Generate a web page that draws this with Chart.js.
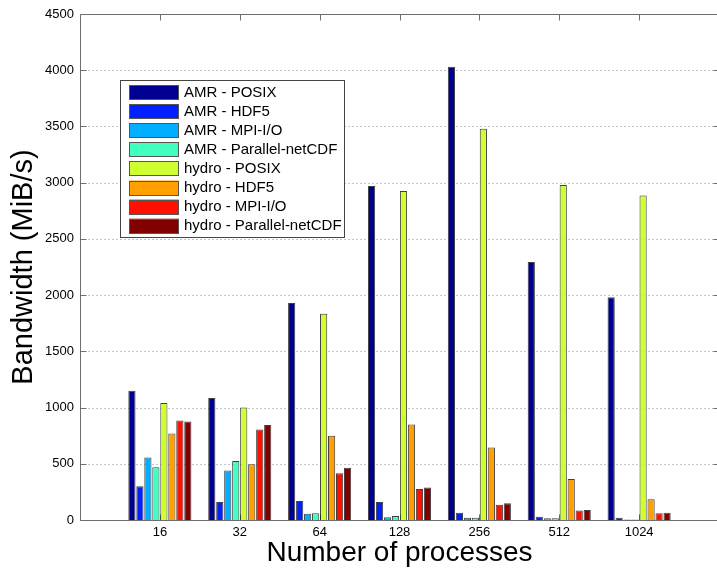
<!DOCTYPE html>
<html>
<head>
<meta charset="utf-8">
<script src="https://cdn.jsdelivr.net/npm/chart.js@4.4.0/dist/chart.umd.min.js"></script>
<style>
  html, body { margin: 0; padding: 0; background: #fff; overflow: hidden; }
  #wrap { width: 724px; height: 569px; }
</style>
</head>
<body>
<div id="wrap"><canvas id="chart" width="724" height="569"></canvas></div>
<script>
// ---- data (MiB/s) ----
const categories = ["16", "32", "64", "128", "256", "512", "1024"];
const seriesNames = [
  "AMR - POSIX", "AMR - HDF5", "AMR - MPI-I/O", "AMR - Parallel-netCDF",
  "hydro - POSIX", "hydro - HDF5", "hydro - MPI-I/O", "hydro - Parallel-netCDF"
];
const amrPosix     = [1150, 1085, 1930, 2970, 4030, 2295, 1980];
const amrHdf5      = [300, 160, 170, 160, 65, 30, 20];
const amrMpiIo     = [555, 440, 55, 25, 20, 15, 5];
const amrPnetcdf   = [470, 525, 60, 35, 20, 15, 5];
const hydroPosix   = [1040, 1000, 1835, 2925, 3480, 2980, 2885];
const hydroHdf5    = [770, 495, 750, 850, 645, 365, 185];
const hydroMpiIo   = [885, 805, 415, 275, 135, 85, 60];
const hydroPnetcdf = [875, 845, 465, 290, 150, 90, 65];
const yTicks = [0, 500, 1000, 1500, 2000, 2500, 3000, 3500, 4000, 4500];

// jet colormap picks, as matlab's bar() gives them
const jetColors = ["#000090", "#0020FF", "#00AFFF", "#40FFBF", "#CFFF30", "#FF9F00", "#FF1000", "#800000"];
const FONT = "'Liberation Sans', Arial, Helvetica, sans-serif";

const allSeries = [amrPosix, amrHdf5, amrMpiIo, amrPnetcdf, hydroPosix, hydroHdf5, hydroMpiIo, hydroPnetcdf];

// an empty slot on each side so the groups sit where matlab puts them
const labels = ["", ...categories, ""];

/** dotted grid, box, inward ticks and the in-plot legend, matlab style */
const matlabAxes = {
  id: "matlabAxes",
  beforeDatasetsDraw(chart) {
    const { ctx, chartArea: a, scales: { x, y } } = chart;
    const L = Math.round(a.left) + 0.5, R = Math.round(a.right) + 0.5;
    const T = Math.round(a.top) + 0.5, B = Math.round(a.bottom) + 0.5;
    const tick = 6;
    ctx.save();
    // dotted grid
    ctx.strokeStyle = "#8a8a8a";
    ctx.lineWidth = 1;
    ctx.setLineDash([1, 3]);
    ctx.beginPath();
    yTicks.slice(1, -1).forEach(v => {
      const py = Math.round(y.getPixelForValue(v)) + 0.5;
      ctx.moveTo(L, py); ctx.lineTo(R, py);
    });
    ctx.stroke();
    ctx.setLineDash([]);
    // box + ticks
    ctx.strokeStyle = "#6e6e6e";
    ctx.beginPath();
    ctx.rect(L, T, R - L, B - T);
    categories.forEach((c, i) => {
      const px = Math.round(x.getPixelForValue(i + 1)) + 0.5;
      ctx.moveTo(px, B); ctx.lineTo(px, B - tick);
      ctx.moveTo(px, T); ctx.lineTo(px, T + tick);
    });
    yTicks.forEach(v => {
      const py = Math.round(y.getPixelForValue(v)) + 0.5;
      ctx.moveTo(L, py); ctx.lineTo(L + tick, py);
      ctx.moveTo(R, py); ctx.lineTo(R - tick, py);
    });
    ctx.stroke();
    ctx.restore();
  },
  afterDraw(chart) {
    const { ctx } = chart;
    const bx = 120.5, by = 80.5, bw = 224, bh = 157;
    ctx.save();
    ctx.fillStyle = "#fff";
    ctx.fillRect(bx, by, bw, bh);
    ctx.strokeStyle = "#444";
    ctx.lineWidth = 1;
    ctx.strokeRect(bx, by, bw, bh);
    ctx.font = "15px " + FONT;
    ctx.textBaseline = "middle";
    chart.data.datasets.forEach((ds, i) => {
      const sy = 85 + i * 19.1;
      ctx.fillStyle = ds.backgroundColor;
      ctx.fillRect(129, sy, 50, 14.5);
      ctx.strokeStyle = "#555";
      ctx.strokeRect(129.5, Math.round(sy) + 0.5, 49, 14);
      ctx.fillStyle = "#000";
      ctx.fillText(ds.label, 184, sy + 7.5);
    });
    ctx.restore();
  }
};

new Chart(document.getElementById("chart"), {
  type: "bar",
  data: {
    labels,
    datasets: allSeries.map((vals, i) => ({
      label: seriesNames[i],
      data: [null, ...vals, null],
      backgroundColor: jetColors[i],
      borderColor: "rgba(30,30,30,0.85)",
      borderWidth: 1,
      categoryPercentage: 0.8,
      barPercentage: 0.9
    }))
  },
  options: {
    responsive: false,
    animation: false,
    devicePixelRatio: 1,
    layout: { padding: { left: 0, right: 4, top: 14, bottom: 0 } },
    plugins: { legend: { display: false }, tooltip: { enabled: false } },
    scales: {
      x: {
        offset: false,
        grid: { display: false, drawTicks: false },
        border: { display: false },
        ticks: {
          autoSkip: false, maxRotation: 0, padding: 5,
          color: "#000", font: { family: FONT, size: 13 }
        },
        title: {
          display: true, text: "Number of processes", color: "#000",
          font: { family: FONT, size: 28, lineHeight: 1 },
          padding: { top: 0, bottom: 1.5 }
        },
        afterFit(scale) { scale.height = 49; }
      },
      y: {
        min: 0, max: 4500,
        afterBuildTicks(scale) { scale.ticks = yTicks.map(v => ({ value: v })); },
        grid: { display: false, drawTicks: false },
        border: { display: false },
        ticks: {
          padding: 6, color: "#000", font: { family: FONT, size: 13 },
          callback: v => String(v)
        },
        title: {
          display: true, text: "Bandwidth (MiB/s)", color: "#000",
          font: { family: FONT, size: 29, lineHeight: 1 },
          padding: { top: 9, bottom: 0 }
        },
        afterFit(scale) { scale.width = 80; }
      }
    }
  },
  plugins: [matlabAxes]
});
</script>
</body>
</html>
